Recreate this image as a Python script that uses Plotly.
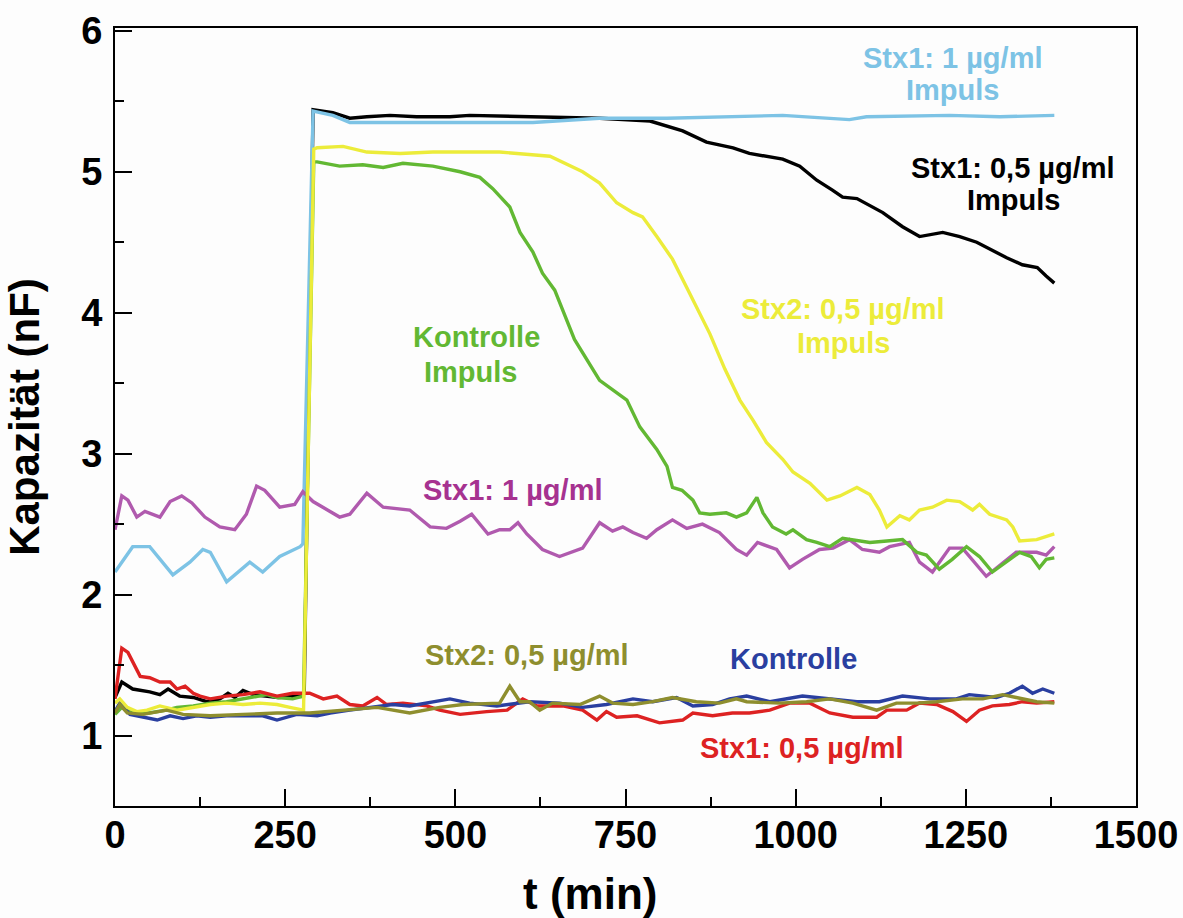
import plotly.graph_objects as go

# ---------------- data (t in min, capacity in nF) ----------------
t_stx1_1_imp = [0, 26, 51, 85, 110, 129, 140, 164, 198, 217, 242, 272, 276, 291, 320, 345, 419, 517,
                614, 712, 811, 981, 1079, 1104, 1226, 1300, 1373, 1380]
c_stx1_1_imp = [2.16, 2.34, 2.34, 2.14, 2.23, 2.32, 2.30, 2.09, 2.23, 2.16, 2.27, 2.34, 2.36, 5.43, 5.40, 5.35,
                5.35, 5.35, 5.35, 5.38, 5.38, 5.40, 5.37, 5.39, 5.40, 5.39, 5.40, 5.40]

t_stx1_05_imp = [0, 10, 26, 51, 66, 78, 95, 115, 135, 154, 166, 176, 188, 203, 240, 270, 278, 291, 320,
                 345, 370, 404, 443, 492, 521, 614, 663, 712, 786, 834, 869, 908, 932, 981, 1006, 1031,
                 1054, 1069, 1090, 1113, 1128, 1157, 1182, 1216, 1241, 1266, 1285, 1310, 1333, 1355,
                 1368, 1380]
c_stx1_05_imp = [1.27, 1.38, 1.33, 1.31, 1.29, 1.33, 1.28, 1.27, 1.24, 1.26, 1.30, 1.27, 1.32, 1.29, 1.27,
                 1.28, 1.30, 5.44, 5.42, 5.38, 5.39, 5.40, 5.39, 5.39, 5.40, 5.39, 5.39, 5.38, 5.36,
                 5.29, 5.21, 5.17, 5.13, 5.09, 5.04, 4.94, 4.87, 4.82, 4.81, 4.75, 4.71, 4.61, 4.54,
                 4.57, 4.54, 4.50, 4.45, 4.39, 4.34, 4.32, 4.26, 4.21]

t_stx2_05_imp = [0, 7, 18, 32, 47, 66, 91, 115, 140, 164, 188, 213, 238, 257, 277, 292, 297, 335, 370,
                 419, 467, 517, 565, 639, 687, 712, 737, 761, 775, 796, 819, 844, 874, 896, 918, 937,
                 957, 981, 996, 1021, 1046, 1065, 1090, 1109, 1123, 1134, 1153, 1167, 1182, 1201,
                 1222, 1241, 1260, 1270, 1285, 1310, 1319, 1329, 1354, 1380]
c_stx2_05_imp = [1.23, 1.26, 1.20, 1.17, 1.18, 1.21, 1.18, 1.20, 1.22, 1.23, 1.22, 1.23, 1.22, 1.20, 1.18,
                 5.16, 5.17, 5.18, 5.14, 5.13, 5.14, 5.14, 5.14, 5.11, 5.00, 4.92, 4.78, 4.71, 4.68,
                 4.54, 4.38, 4.14, 3.85, 3.60, 3.38, 3.24, 3.08, 2.96, 2.87, 2.79, 2.67, 2.70, 2.76,
                 2.71, 2.60, 2.48, 2.56, 2.53, 2.60, 2.62, 2.67, 2.66, 2.60, 2.64, 2.57, 2.53, 2.48,
                 2.38, 2.39, 2.43]

t_kontr_imp = [0, 10, 25, 50, 75, 91, 115, 140, 164, 188, 208, 223, 238, 261, 277, 292, 297, 330, 364,
               394, 423, 467, 507, 536, 555, 580, 595, 614, 628, 646, 675, 712, 752, 771, 796, 811,
               819, 833, 849, 859, 874, 898, 913, 928, 943, 952, 966, 986, 996, 1016, 1031, 1050,
               1069, 1084, 1109, 1134, 1157, 1178, 1192, 1211, 1230, 1251, 1270, 1289, 1310, 1329,
               1346, 1358, 1368, 1380]
c_kontr_imp = [1.15, 1.20, 1.16, 1.16, 1.18, 1.20, 1.21, 1.23, 1.24, 1.26, 1.28, 1.29, 1.27, 1.26, 1.28,
               5.07, 5.07, 5.04, 5.05, 5.03, 5.06, 5.04, 5.00, 4.96, 4.88, 4.75, 4.57, 4.43, 4.28,
               4.16, 3.81, 3.52, 3.38, 3.19, 3.03, 2.91, 2.76, 2.74, 2.67, 2.58, 2.57, 2.58, 2.55,
               2.58, 2.69, 2.58, 2.48, 2.43, 2.46, 2.39, 2.37, 2.34, 2.40, 2.39, 2.37, 2.38, 2.39,
               2.30, 2.28, 2.18, 2.25, 2.34, 2.27, 2.16, 2.23, 2.30, 2.27, 2.19, 2.25, 2.26]

t_stx1_1 = [0, 10, 19, 32, 44, 66, 81, 98, 113, 132, 154, 176, 193, 208, 220, 242, 264, 276, 291, 311,
            330, 345, 370, 394, 433, 463, 487, 507, 524, 548, 565, 580, 592, 605, 628, 653, 687, 712,
            731, 746, 761, 781, 796, 819, 840, 863, 888, 913, 928, 944, 972, 991, 1010, 1035, 1055,
            1079, 1098, 1123, 1138, 1167, 1182, 1201, 1226, 1245, 1280, 1324, 1354, 1368, 1380]
c_stx1_1 = [2.46, 2.70, 2.67, 2.55, 2.59, 2.55, 2.66, 2.70, 2.65, 2.55, 2.48, 2.46, 2.57, 2.77, 2.74,
            2.62, 2.64, 2.73, 2.66, 2.60, 2.55, 2.57, 2.72, 2.62, 2.60, 2.48, 2.47, 2.52, 2.57, 2.43,
            2.46, 2.46, 2.51, 2.43, 2.32, 2.27, 2.33, 2.51, 2.45, 2.48, 2.44, 2.40, 2.46, 2.53, 2.47,
            2.50, 2.44, 2.32, 2.28, 2.37, 2.32, 2.19, 2.25, 2.32, 2.33, 2.39, 2.32, 2.30, 2.34, 2.37,
            2.23, 2.16, 2.33, 2.33, 2.13, 2.30, 2.30, 2.28, 2.34]

t_stx1_05 = [0, 10, 19, 26, 37, 51, 66, 81, 91, 103, 115, 125, 140, 164, 188, 213, 238, 261, 286, 306,
             326, 345, 364, 385, 399, 423, 458, 477, 507, 546, 576, 599, 620, 658, 687, 708, 722, 737,
             767, 800, 834, 849, 878, 907, 932, 962, 991, 1021, 1050, 1084, 1119, 1134, 1163, 1182,
             1207, 1231, 1251, 1270, 1289, 1314, 1333, 1354, 1373, 1380]
c_stx1_05 = [1.26, 1.62, 1.59, 1.52, 1.42, 1.41, 1.38, 1.38, 1.33, 1.35, 1.30, 1.28, 1.26, 1.28, 1.29,
             1.31, 1.28, 1.30, 1.30, 1.26, 1.28, 1.22, 1.21, 1.27, 1.22, 1.23, 1.21, 1.18, 1.15, 1.17,
             1.18, 1.26, 1.21, 1.21, 1.18, 1.11, 1.17, 1.13, 1.14, 1.09, 1.11, 1.16, 1.14, 1.16, 1.16,
             1.18, 1.23, 1.23, 1.16, 1.13, 1.13, 1.18, 1.18, 1.23, 1.22, 1.17, 1.10, 1.18, 1.21, 1.22,
             1.24, 1.23, 1.24, 1.24]

t_kontr = [0, 7, 22, 41, 62, 81, 100, 120, 140, 164, 188, 217, 238, 267, 297, 316, 345, 374, 408, 433,
           458, 492, 521, 561, 609, 653, 687, 722, 761, 790, 825, 849, 878, 903, 928, 962, 1010, 1050,
           1090, 1123, 1157, 1197, 1236, 1255, 1295, 1314, 1333, 1348, 1363, 1380]
c_kontr = [1.17, 1.23, 1.15, 1.13, 1.11, 1.14, 1.12, 1.14, 1.13, 1.14, 1.14, 1.14, 1.11, 1.15, 1.14,
           1.16, 1.18, 1.20, 1.22, 1.21, 1.23, 1.26, 1.23, 1.21, 1.24, 1.23, 1.20, 1.22, 1.26, 1.24,
           1.27, 1.21, 1.22, 1.26, 1.28, 1.24, 1.28, 1.26, 1.24, 1.24, 1.28, 1.26, 1.26, 1.29, 1.27,
           1.30, 1.35, 1.30, 1.33, 1.30]

t_stx2_05 = [0, 7, 18, 41, 76, 100, 140, 188, 238, 286, 335, 385, 433, 458, 477, 511, 565, 580, 595,
             609, 624, 643, 683, 712, 731, 761, 790, 819, 854, 888, 913, 928, 976, 1016, 1050, 1084,
             1119, 1148, 1178, 1207, 1245, 1275, 1304, 1324, 1354, 1380]
c_stx2_05 = [1.16, 1.22, 1.16, 1.15, 1.18, 1.15, 1.14, 1.15, 1.16, 1.16, 1.18, 1.20, 1.16, 1.18, 1.20,
             1.22, 1.23, 1.35, 1.24, 1.24, 1.18, 1.23, 1.22, 1.28, 1.23, 1.22, 1.24, 1.27, 1.24, 1.23,
             1.26, 1.24, 1.23, 1.24, 1.26, 1.23, 1.18, 1.23, 1.23, 1.24, 1.26, 1.26, 1.29, 1.27, 1.24,
             1.23]

x_ticks = [0, 250, 500, 750, 1000, 1250, 1500]
y_ticks = [1, 2, 3, 4, 5, 6]

# ---------------- styling ----------------
C_LBLUE = "#7DC3E5"
C_BLACK = "#000000"
C_YELLOW = "#ECEC3A"
C_GREEN = "#62B833"
C_MAG = "#B05AAE"
C_MAG_T = "#A63290"
C_RED = "#DD2222"
C_BLUE = "#2A3FA0"
C_OLIVE = "#8E8E2E"

FONT = "Liberation Sans, Arial, Helvetica, sans-serif"

L, R, T, B = 115, 47, 28, 112
W, H = 1183, 918
PW, PH = W - L - R, H - T - B


def paper(px, py):
    return (px - L) / PW, (H - B - py) / PH


fig = go.Figure()

series = [
    (t_stx1_05_imp, c_stx1_05_imp, C_BLACK, "Stx1: 0,5 µg/ml Impuls"),
    (t_stx1_1_imp, c_stx1_1_imp, C_LBLUE, "Stx1: 1 µg/ml Impuls"),
    (t_stx1_1, c_stx1_1, C_MAG, "Stx1: 1 µg/ml"),
    (t_kontr_imp, c_kontr_imp, C_GREEN, "Kontrolle Impuls"),
    (t_stx1_05, c_stx1_05, C_RED, "Stx1: 0,5 µg/ml"),
    (t_kontr, c_kontr, C_BLUE, "Kontrolle"),
    (t_stx2_05_imp, c_stx2_05_imp, C_YELLOW, "Stx2: 0,5 µg/ml Impuls"),
    (t_stx2_05, c_stx2_05, C_OLIVE, "Stx2: 0,5 µg/ml"),
]
for xs, ys, col, name in series:
    fig.add_trace(go.Scatter(x=xs, y=ys, mode="lines", name=name,
                             line=dict(color=col, width=3.4), showlegend=False))

labels = [
    ("Stx1: 1 µg/ml", 952, 58, C_LBLUE),
    ("Impuls", 952, 90, C_LBLUE),
    ("Stx1: 0,5 µg/ml", 1013, 168, C_BLACK),
    ("Impuls", 1013, 200, C_BLACK),
    ("Kontrolle", 476, 337, C_GREEN),
    ("Impuls", 470, 372, C_GREEN),
    ("Stx2: 0,5 µg/ml", 843, 309, C_YELLOW),
    ("Impuls", 843, 343, C_YELLOW),
    ("Stx1: 1 µg/ml", 512, 490, C_MAG_T),
    ("Stx2: 0,5 µg/ml", 527, 655, C_OLIVE),
    ("Kontrolle", 793, 659, C_BLUE),
    ("Stx1: 0,5 µg/ml", 802, 748, C_RED),
]
for txt, px, py, col in labels:
    xp, yp = paper(px, py)
    fig.add_annotation(text=txt, x=xp, y=yp, xref="paper", yref="paper",
                       xanchor="center", yanchor="middle", showarrow=False,
                       font=dict(family=FONT, size=29, color=col, weight="bold"))

# x-axis title placed like the original (slightly left of centre)
xp, yp = paper(590, 893)
fig.add_annotation(text="t (min)", x=xp, y=yp, xref="paper", yref="paper",
                   xanchor="center", yanchor="middle", showarrow=False,
                   font=dict(family=FONT, size=44, color="#000", weight="bold"))

fig.update_xaxes(range=[0, 1500], tickvals=x_ticks, ticktext=[str(v) for v in x_ticks],
                 ticks="inside", ticklen=17, tickwidth=2, tickcolor="#000",
                 minor=dict(dtick=125, ticks="inside", ticklen=9, tickwidth=2, tickcolor="#000"),
                 showline=True, linewidth=2, linecolor="#000", mirror=True,
                 showgrid=False, zeroline=False, ticklabelstandoff=-6, automargin=False,
                 tickfont=dict(family=FONT, size=38, color="#000", weight="bold"))
fig.update_yaxes(range=[0.5, 6.02], tickvals=y_ticks, ticktext=[str(v) for v in y_ticks],
                 ticks="inside", ticklen=17, tickwidth=2, tickcolor="#000",
                 minor=dict(dtick=0.5, tick0=0.5, ticks="inside", ticklen=9, tickwidth=2, tickcolor="#000"),
                 showline=True, linewidth=2, linecolor="#000", mirror=True,
                 showgrid=False, zeroline=False, ticklabelstandoff=3, automargin=False,
                 tickfont=dict(family=FONT, size=38, color="#000", weight="bold"),
                 title=dict(text="Kapazität (nF)", standoff=29,
                            font=dict(family=FONT, size=42, color="#000", weight="bold")))

fig.update_layout(width=W, height=H, margin=dict(l=L, r=R, t=T, b=B),
                  paper_bgcolor="#FDFDFD", plot_bgcolor="#FDFDFD", showlegend=False)

fig.write_html("out.html")
